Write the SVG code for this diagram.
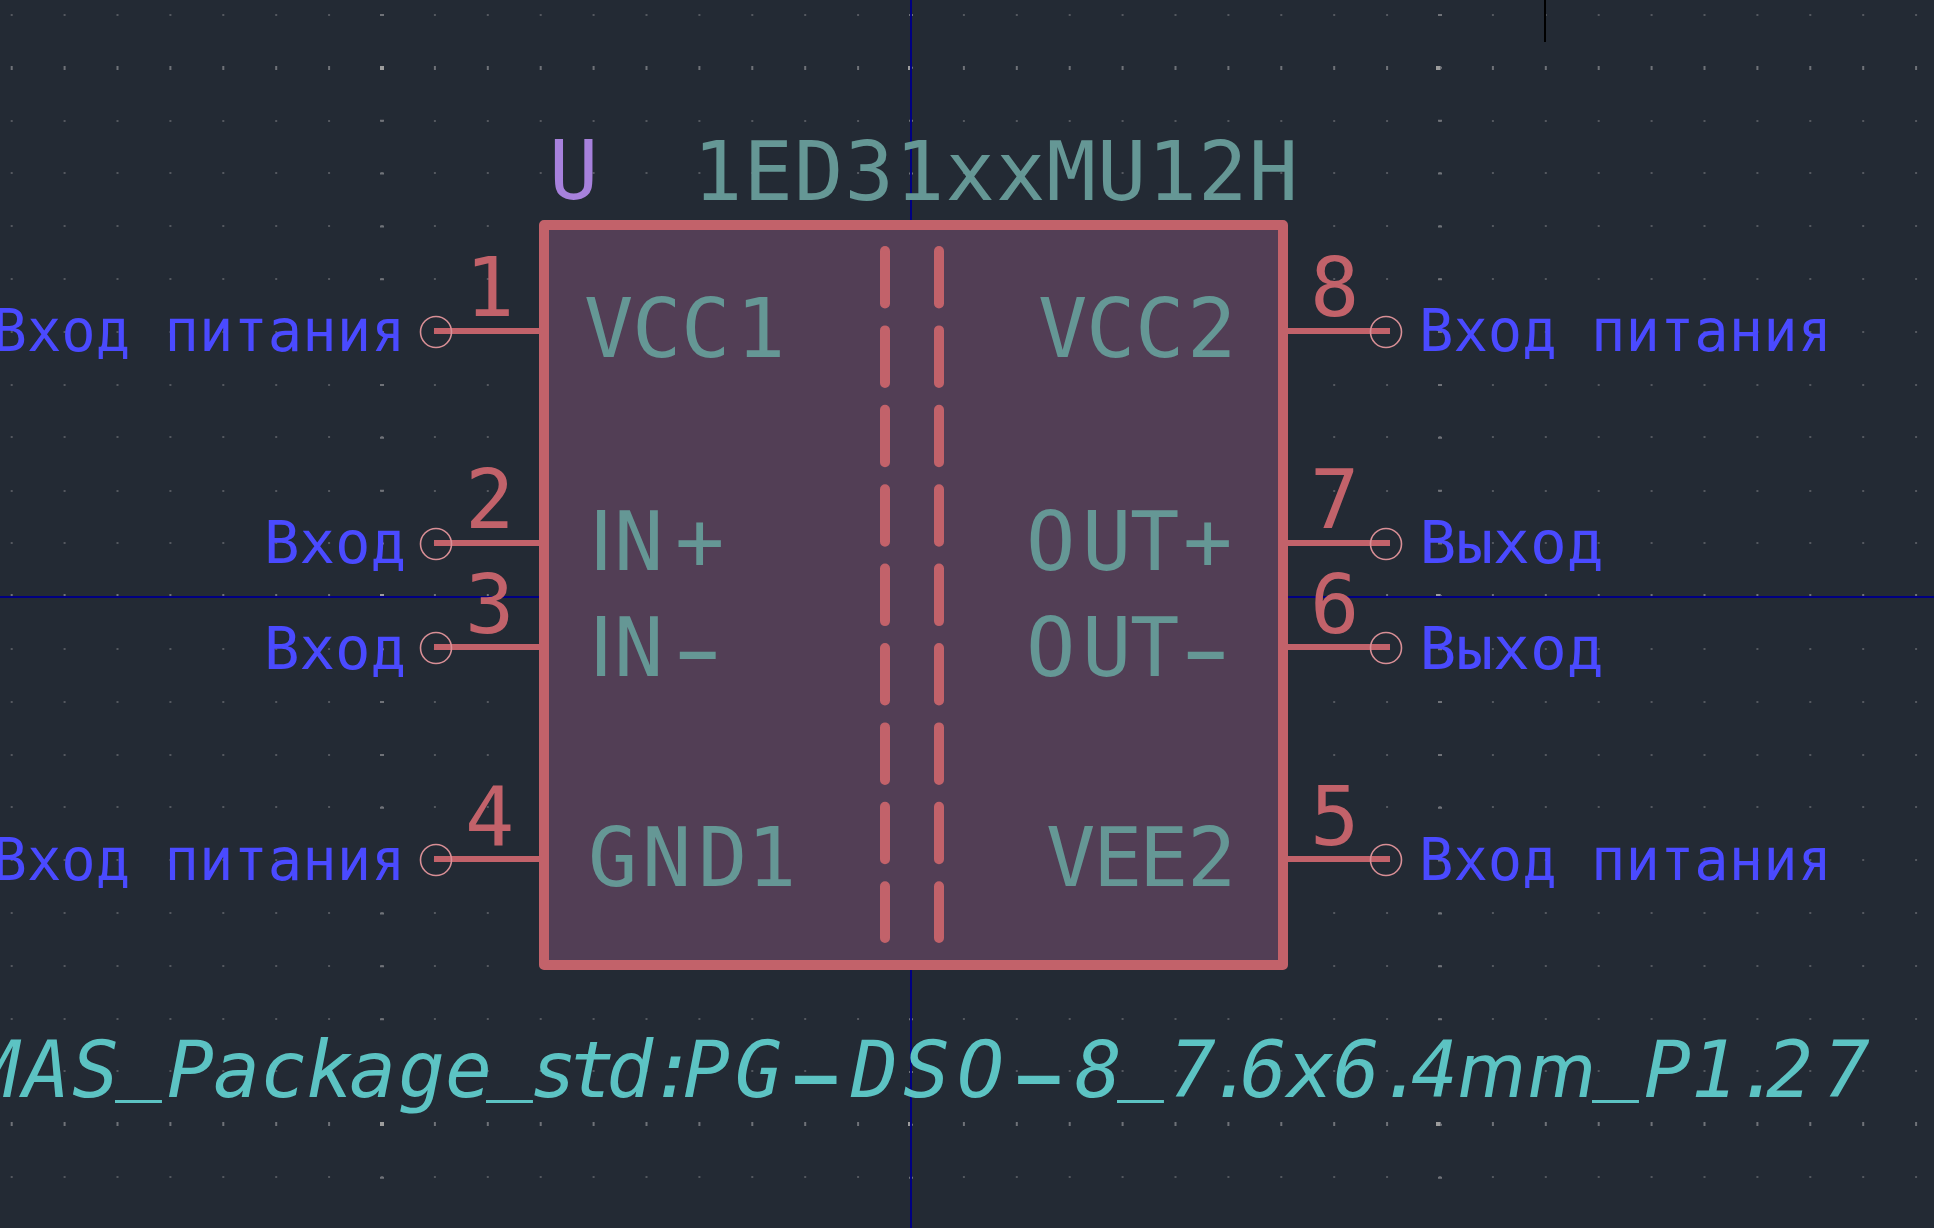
<svg xmlns="http://www.w3.org/2000/svg" width="1934" height="1228" viewBox="0 0 1934 1228">
<style>
text{font-family:"DejaVu Sans Mono","Liberation Mono",monospace;white-space:pre}
.num{font-size:82px;fill:#c2626a}
.name{font-size:82px;fill:#659795}
.type{font-size:59px;fill:#4a4aff}
.ref{font-size:82px;fill:#a781dc}
.val{font-size:82px;fill:#659795}
.fp{font-size:78px;fill:#5cc3c3;font-style:italic}
.dash{font-family:Inter,"Liberation Sans",sans-serif;font-weight:300;font-size:118px;font-style:normal}
.fpdash{font-family:Inter,"Liberation Sans",sans-serif;font-weight:300;font-size:136px;font-style:normal}
.stem{font-family:"Liberation Sans",sans-serif;font-size:87px}
.wide{font-family:Roboto,"Liberation Sans",sans-serif}
.wire{stroke:#c2626a;stroke-width:6;fill:none}
.end{stroke:#d98f96;stroke-width:1.6;fill:none}
.iso{stroke:#c2626a;stroke-width:10;stroke-linecap:round;stroke-dasharray:52.5 26.9;fill:none}
.axis{stroke:#000082;stroke-width:2;fill:none}
</style>
<rect width="1934" height="1228" fill="#232a34"/>
<g id="grid" fill="none">
<path stroke="#54585f" stroke-width="2" stroke-dasharray="2 50.9" d="M10.7 15H1934M10.7 121H1934M10.7 173H1934M10.7 226H1934M10.7 279H1934M10.7 332H1934M10.7 385H1934M10.7 437H1934M10.7 491H1934M10.7 543H1934M10.7 649H1934M10.7 702H1934M10.7 755H1934M10.7 807H1934M10.7 860H1934M10.7 913H1934M10.7 966H1934M10.7 1019H1934M10.7 1071H1934M10.7 1177H1934"/>
<path stroke="#6f7278" stroke-width="4" stroke-dasharray="2 50.9" d="M10.7 68H1934M10.7 596H1934M10.7 1124H1934"/>
<path stroke="#6f7278" stroke-width="4" stroke-dasharray="2 50.85" d="M382 14V1228M911 14V1228M1440 14V1228"/>
<path stroke="#9c9c9c" stroke-width="4" stroke-dasharray="4 524" d="M380 68H1934M380 596H1934M380 1124H1934"/>
</g>
<g id="axes">
<path class="axis" d="M911 0V1228M0 597H1934"/>
<path d="M1545 0V42" stroke="#000" stroke-width="2" fill="none"/>
</g>
<g id="connectors">
<path class="wire" d="M434 331H540M434 543H540M434 647H540M434 859H540M1287 331H1390M1287 543H1390M1287 647H1390M1287 859H1390"/>
<circle class="end" cx="436" cy="332" r="15.5"/>
<circle class="end" cx="436" cy="544" r="15.5"/>
<circle class="end" cx="436" cy="648" r="15.5"/>
<circle class="end" cx="436" cy="860" r="15.5"/>
<circle class="end" cx="1386" cy="332" r="15.5"/>
<circle class="end" cx="1386" cy="544" r="15.5"/>
<circle class="end" cx="1386" cy="648" r="15.5"/>
<circle class="end" cx="1386" cy="860" r="15.5"/>
</g>
<g id="body">
<rect x="544" y="225" width="739" height="740" fill="#523e55" stroke="#c2626a" stroke-width="10" stroke-linejoin="round"/>
<path class="iso" d="M885 251V938"/>
<path class="iso" d="M939 251V938"/>
<text class="ref" x="549" y="199">U</text>
<text class="val" x="693" y="200" textLength="605" lengthAdjust="spacing">1ED31xxMU12H</text>
</g>
<g id="pin1"><text class="num" x="465" y="316">1</text><text class="name" x="584 632 681 736" y="357">VCC1</text><text class="type" x="-7.5" y="351" textLength="413" lengthAdjust="spacingAndGlyphs">Вход питания</text></g>
<g id="pin2"><text class="num" x="465" y="528">2</text><text class="name" x="589 614 675" y="570"><tspan class="stem">I</tspan>N+</text><text class="type" x="264" y="563">Вход</text></g>
<g id="pin3"><text class="num" x="465" y="633">3</text><text class="name" x="589 614 671" dy="0 0 16" y="676"><tspan class="stem">I</tspan>N<tspan class="dash">-</tspan></text><text class="type" x="264" y="669">Вход</text></g>
<g id="pin4"><text class="num" x="465" y="845">4</text><text class="name" x="588 642 698 747" y="886">GND1</text><text class="type" x="-7.5" y="880" textLength="413" lengthAdjust="spacingAndGlyphs">Вход питания</text></g>
<g id="pin5"><text class="num" x="1310" y="845">5</text><text class="name" x="1046 1093 1139 1187" y="886">VEE2</text><text class="type" x="1419" y="880" textLength="413" lengthAdjust="spacingAndGlyphs">Вход питания</text></g>
<g id="pin6"><text class="num" x="1310" y="633">6</text><text class="name" x="1026 1082 1130 1179" dy="0 0 0 16" y="676">OUT<tspan class="dash">-</tspan></text><text class="type" x="1419.5" y="669" textLength="184" lengthAdjust="spacingAndGlyphs">Выход</text></g>
<g id="pin7"><text class="num" x="1310" y="528">7</text><text class="name" x="1026 1082 1130 1183" y="570">OUT+</text><text class="type" x="1419.5" y="563" textLength="184" lengthAdjust="spacingAndGlyphs">Выход</text></g>
<g id="pin8"><text class="num" x="1310" y="316">8</text><text class="name" x="1038 1086 1135 1187" y="357">VCC2</text><text class="type" x="1419" y="351" textLength="413" lengthAdjust="spacingAndGlyphs">Вход питания</text></g>
<g id="footprint"><text class="fp" y="1097" x="-28 23 72 115 167 213 260 306 349 398 445 486 530 568 606 650 683 735 785 851 903 957 1008 1075 1117 1169 1209 1240 1287 1333 1379 1411 1459 1529 1592 1644 1691 1736 1766 1823" dy="0 0 0 -13 13 0 0 0 0 0 0 -13 13 0 0 0 0 0 25 -25 0 0 25 -25 -13 13 0 0 0 0 0 0 0 0 -13 13">MAS_Package_std:PG<tspan class="fpdash">-</tspan>DSO<tspan class="fpdash">-</tspan>8_7.6x6.4<tspan class="wide">mm</tspan>_P1.27</text></g>
</svg>
